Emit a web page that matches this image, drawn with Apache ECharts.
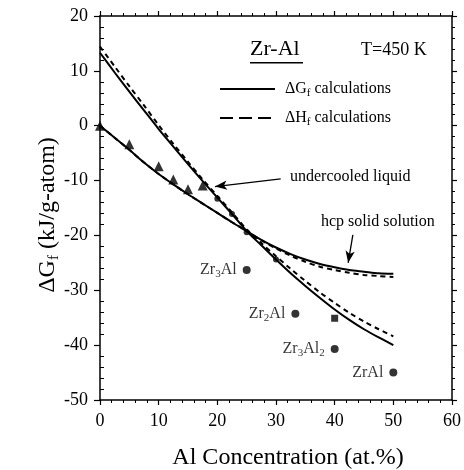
<!DOCTYPE html>
<html><head><meta charset="utf-8">
<script src="https://cdn.jsdelivr.net/npm/echarts@6/dist/echarts.min.js"></script>
<style>html,body{margin:0;padding:0;background:#fff}#c{width:464px;height:470px}</style>
</head><body><div id="c"></div>
<script>
// ---- data ----
const xs     = [0, 2.5, 5, 7.5, 10, 12.5, 15, 17.5, 20, 22.5, 25, 27.5, 30, 32.5, 35, 37.5, 40, 42.5, 45, 47.5, 50];
const liqG   = [13.3, 9.7, 6.2, 2.8, -0.6, -3.8, -7.0, -10.1, -13.1, -16.1, -19.2, -21.8, -24.4, -26.9, -29.2, -31.4, -33.5, -35.4, -37.1, -38.6, -40.0];
const liqH   = [14.4, 10.8, 7.2, 3.7, 0.1, -3.3, -6.6, -9.8, -12.8, -15.8, -18.9, -21.4, -23.8, -26.1, -28.3, -30.4, -32.3, -34.1, -35.7, -37.1, -38.4];
const hcpG   = [0, -2.2, -4.4, -6.7, -8.8, -10.7, -12.5, -14.2, -15.9, -17.6, -19.2, -20.8, -22.2, -23.4, -24.4, -25.2, -25.8, -26.3, -26.6, -26.9, -27.0];
const hcpH   = [0, -2.2, -4.4, -6.7, -8.8, -10.7, -12.5, -14.2, -15.9, -17.6, -19.2, -20.9, -22.4, -23.7, -24.8, -25.7, -26.3, -26.8, -27.2, -27.4, -27.6];
const triX   = [0, 5, 10, 12.5, 15, 17.5];
const triY   = [0, -3.4, -7.4, -9.8, -11.6, -10.9];
const calcX  = [20, 22.5, 25, 30];
const calcY  = [-13.3, -16.1, -19.4, -24.4];
const compLabels = ['Zr{s|3}Al', 'Zr{s|2}Al', 'Zr{s|3}Al{s|2}', 'ZrAl'];
const compX  = [25, 33.3, 40, 50];
const compY  = [-26.3, -34.3, -40.7, -45.0];
const sqX    = [40];
const sqY    = [-35.1];
const xTicks = [0, 10, 20, 30, 40, 50, 60];
const yTicks = [-50, -40, -30, -20, -10, 0, 10, 20];
const legendNames = ['ΔG{s|f} calculations', 'ΔH{s|f} calculations'];
// annotation arrows in data coordinates [from, to]
const arrowLiquid = [[30.8, -9.7], [19.6, -11.1]];
const arrowHcp    = [[43.1, -19.9], [42.3, -25.0]];

const FONT = '"Liberation Serif","Times New Roman",serif';
const pairs = (a, b) => a.map((v, i) => [v, b[i]]);
const subStyle = (fs, pad) => ({ fontSize: fs, fontFamily: FONT, color: '#000', fill: '#000', padding: [pad, 0, 0, 0] });

const chart = echarts.init(document.getElementById('c'));

const axisBase = {
  type: 'value',
  axisLine: { show: true, onZero: false, lineStyle: { color: '#000', width: 1.5 } },
  splitLine: { show: false },
};
const xBase = Object.assign({}, axisBase, { min: xTicks[0], max: xTicks[xTicks.length - 1], interval: 10 });
const yBase = Object.assign({}, axisBase, { min: yTicks[0], max: yTicks[yTicks.length - 1], interval: 10 });

chart.setOption({
  animation: false,
  backgroundColor: '#fff',
  grid: { left: 100, right: 10, top: 16, bottom: 70, containLabel: false },
  xAxis: [
    Object.assign({}, xBase, {
      position: 'bottom',
      axisTick: { show: true, length: 5, lineStyle: { color: '#000', width: 1.2 } },
      minorTick: { show: true, splitNumber: 5, length: 3, lineStyle: { color: '#000', width: 1 } },
      axisLabel: { show: true, margin: 12, fontFamily: FONT, fontSize: 18, color: '#000' }
    }),
    Object.assign({}, xBase, {
      position: 'top',
      axisTick: { show: true, length: 5, lineStyle: { color: '#000', width: 1.2 } },
      minorTick: { show: true, splitNumber: 5, length: 3, lineStyle: { color: '#000', width: 1 } },
      axisLabel: { show: false }
    })
  ],
  yAxis: [
    Object.assign({}, yBase, {
      position: 'left',
      axisTick: { show: true, length: 6, lineStyle: { color: '#000', width: 1.2 } },
      minorTick: { show: false },
      axisLabel: { show: true, margin: 12, fontFamily: FONT, fontSize: 18, color: '#000' }
    }),
    Object.assign({}, yBase, {
      position: 'right',
      axisTick: { show: true, length: 5, lineStyle: { color: '#000', width: 1.2 } },
      minorTick: { show: true, splitNumber: 5, length: 3, lineStyle: { color: '#000', width: 1 } },
      axisLabel: { show: false }
    }),
    Object.assign({}, yBase, {
      position: 'left',
      axisLine: { show: false, onZero: false },
      axisTick: { show: false, inside: true },
      minorTick: { show: true, splitNumber: 5, length: 4, lineStyle: { color: '#000', width: 1 } },
      axisLabel: { show: false }
    })
  ],
  series: [
    { name: 'liquidG', type: 'line', smooth: 0.3, symbol: 'none', data: pairs(xs, liqG),
      lineStyle: { color: '#000', width: 2, type: 'solid' }, itemStyle: { color: '#000' }, z: 3 },
    { name: 'liquidH', type: 'line', smooth: 0.3, symbol: 'none', data: pairs(xs, liqH),
      lineStyle: { color: '#000', width: 2, type: [5, 4] }, itemStyle: { color: '#000' }, z: 3 },
    { name: 'hcpG', type: 'line', smooth: 0.3, symbol: 'none', data: pairs(xs, hcpG),
      lineStyle: { color: '#000', width: 2, type: 'solid' }, z: 3 },
    { name: 'hcpH', type: 'line', smooth: 0.3, symbol: 'none', data: pairs(xs, hcpH),
      lineStyle: { color: '#000', width: 2, type: [5, 4] }, z: 3 },
    { name: 'triangles', type: 'scatter', symbol: 'triangle', symbolSize: 10, data: pairs(triX, triY),
      itemStyle: { color: '#000' }, z: 4 },
    { name: 'calc', type: 'scatter', symbol: 'circle', symbolSize: 6, data: pairs(calcX, calcY),
      itemStyle: { color: '#000' }, z: 4 },
    { name: 'square', type: 'scatter', symbol: 'rect', symbolSize: 7, data: pairs(sqX, sqY),
      itemStyle: { color: '#000' }, z: 4 },
    { name: 'compounds', type: 'scatter', symbol: 'circle', symbolSize: 8, data: pairs(compX, compY),
      itemStyle: { color: '#000' }, z: 4,
      label: { show: true, position: 'left', distance: 6, color: '#000', fontFamily: FONT, fontSize: 16,
        formatter: p => compLabels[p.dataIndex], rich: { s: subStyle(11, 9) } },
      markLine: {
        silent: true, symbol: ['none', 'arrow'], symbolSize: [7, 12], label: { show: false },
        lineStyle: { color: '#000', width: 1.3, type: 'solid' },
        data: [
          [{ coord: arrowLiquid[0] }, { coord: arrowLiquid[1] }],
          [{ coord: arrowHcp[0] }, { coord: arrowHcp[1] }]
        ]
      }
    }
  ],
  graphic: [
    { type: 'text', left: 250, top: 38, style: { text: 'Zr-Al', fontFamily: FONT, fontSize: 22, fill: '#000' } },
    { type: 'rect', shape: { x: 250, y: 62, width: 53, height: 1.5 }, style: { fill: '#000' } },
    { type: 'text', left: 361, top: 41, style: { text: 'T=450 K', fontFamily: FONT, fontSize: 18, fill: '#000' } },
    // legend
    { type: 'line', shape: { x1: 220, y1: 89, x2: 275, y2: 89 }, style: { stroke: '#000', lineWidth: 2 } },
    { type: 'line', shape: { x1: 220, y1: 118, x2: 275, y2: 118 }, style: { stroke: '#000', lineWidth: 2, lineDash: [13, 6] } },
    { type: 'text', x: 285, y: 89, style: { text: legendNames[0], fontFamily: FONT, fontSize: 16, fill: '#000', verticalAlign: 'middle',
        rich: { s: subStyle(11, 8) } } },
    { type: 'text', x: 285, y: 118, style: { text: legendNames[1], fontFamily: FONT, fontSize: 16, fill: '#000', verticalAlign: 'middle',
        rich: { s: subStyle(11, 8) } } },
    { type: 'text', left: 290, top: 169, style: { text: 'undercooled liquid', fontFamily: FONT, fontSize: 16, fill: '#000' } },
    { type: 'text', left: 321, top: 214, style: { text: 'hcp solid solution', fontFamily: FONT, fontSize: 16, fill: '#000' } },
    { type: 'text', x: 288, y: 458, style: { text: 'Al Concentration (at.%)', fontFamily: FONT, fontSize: 24, fill: '#000', align: 'center', verticalAlign: 'middle' } },
    { type: 'text', x: 48, y: 215, rotation: Math.PI / 2,
      style: { text: 'ΔG{s|f} (kJ/g-atom)', fontFamily: FONT, fontSize: 24, fill: '#000', align: 'center', verticalAlign: 'middle',
        rich: { s: subStyle(15, 12) } } }
  ]
});
</script>
</body></html>
